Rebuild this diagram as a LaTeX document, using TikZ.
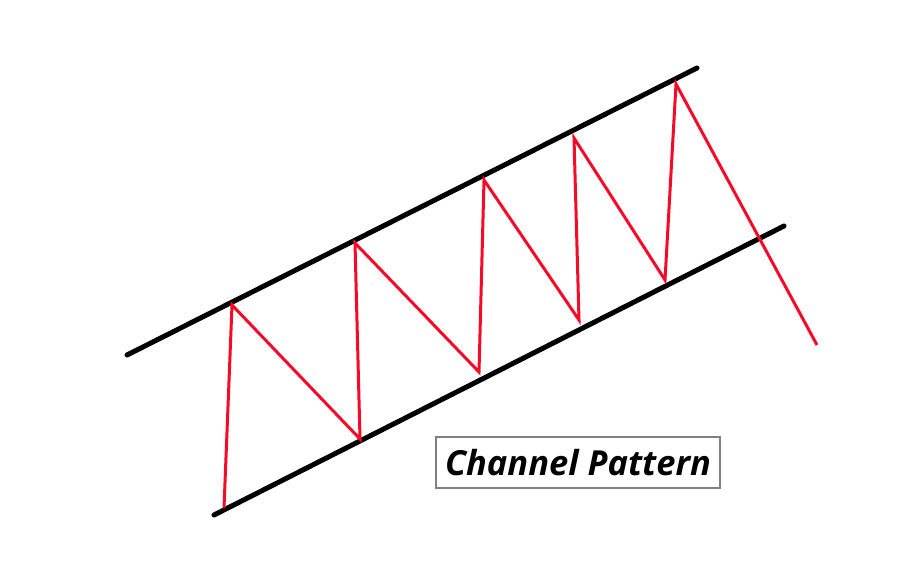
\documentclass[tikz,border=0pt]{standalone}
\usepackage{fontspec}
\setmainfont{DejaVu Sans}
\newfontfamily\labfont{Open Sans}
\definecolor{pricered}{RGB}{245,10,40}
\begin{document}
\begin{tikzpicture}[x=1pt,y=-1pt,
  chan/.style={line width=5pt,black,line cap=round},
  price/.style={line width=3pt,pricered,line join=miter,line cap=butt},
  label/.style={draw=gray,line width=2pt,fill=white,minimum width=284pt,minimum height=51pt,inner sep=0pt,font=\labfont\fontsize{34.5}{40}\selectfont\bfseries\itshape}]
\useasboundingbox[fill=white] (0,0) rectangle (909,579);
\coordinate (u1) at (127,355);
\coordinate (u2) at (697,68);
\coordinate (l1) at (214,515);
\coordinate (l2) at (784,226);
\draw[chan] (u1) -- (u2);
\draw[chan] (l1) -- (l2);
\coordinate (p0) at (224,508);
\coordinate (p1) at (232,305);
\coordinate (p2) at (360,439);
\coordinate (p3) at (355,243);
\coordinate (p4) at (479,372);
\coordinate (p5) at (484,180);
\coordinate (p6) at (579,320);
\coordinate (p7) at (574,138);
\coordinate (p8) at (665,280);
\coordinate (p9) at (676,84);
\coordinate (p10) at (817,345);
\draw[price] (p0) -- (p1) -- (p2) -- (p3) -- (p4) -- (p5) -- (p6) -- (p7) -- (p8) -- (p9) -- (p10);
\node[label] (lab) at (578,462.5) {Channel Pattern};
\end{tikzpicture}
\end{document}
